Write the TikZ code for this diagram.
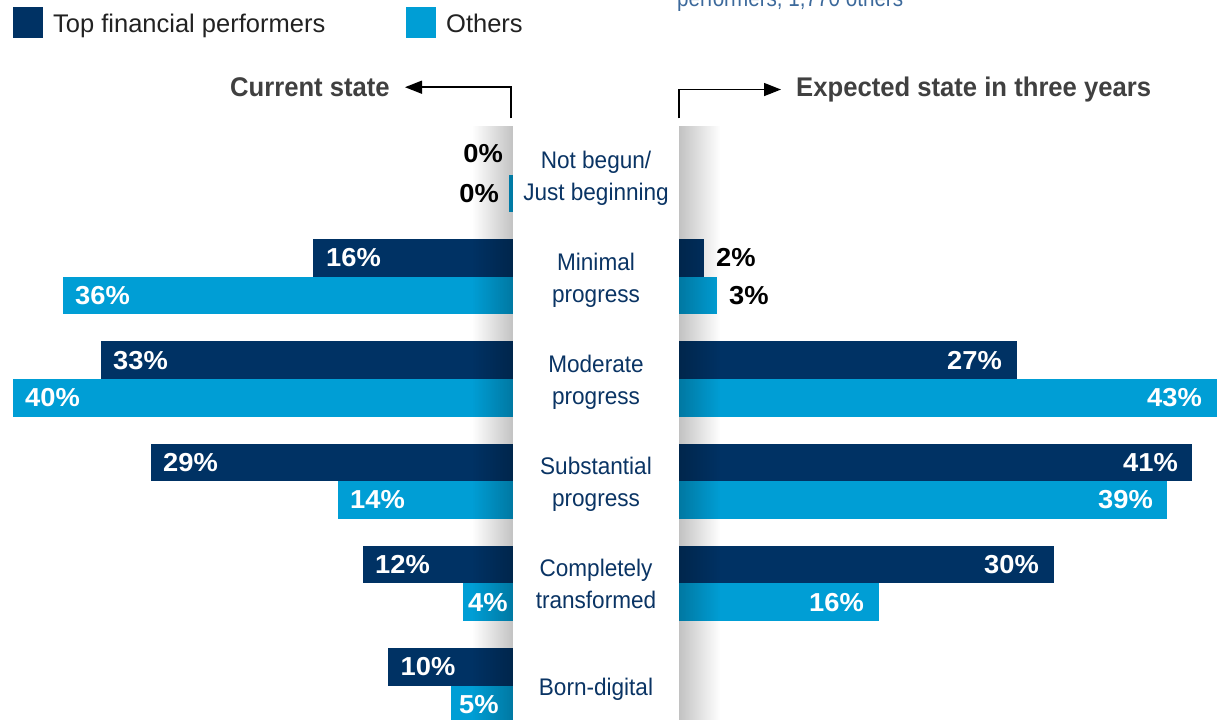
\documentclass[tikz,border=0pt]{standalone}
\usepackage{fontspec}
\setmainfont{Liberation Sans}
\newfontfamily\condfont{Liberation Sans}[FakeStretch=0.94]
\newfontfamily\notefont{Liberation Sans}[FakeStretch=0.86]
\newfontfamily\pctfont{Liberation Sans}[FakeStretch=1.05]
\newfontfamily\headfont{Liberation Sans}[FakeStretch=0.95]
\usetikzlibrary{arrows.meta,fadings}
\definecolor{topc}{RGB}{0,50,100}
\definecolor{othc}{RGB}{0,158,213}
\definecolor{catc}{RGB}{10,52,100}
\definecolor{headc}{RGB}{64,64,64}
\definecolor{notec}{RGB}{60,105,155}
\definecolor{legc}{RGB}{34,34,34}
\begin{document}
\begin{tikzpicture}[x=1pt,y=-1pt,
  pct/.style={inner sep=0pt,font=\pctfont\bfseries\fontsize{26}{30}\selectfont},
  pin/.style={pct,text=white},
  pout/.style={pct,text=black},
  cat/.style={inner sep=0pt,align=center,text=catc,font=\condfont\fontsize{24}{32}\selectfont},
  head/.style={inner sep=0pt,text=headc,font=\headfont\bfseries\fontsize{27}{30}\selectfont},
  leg/.style={inner sep=0pt,text=legc,font=\fontsize{25.5}{30}\selectfont},
  arr/.style={line width=1.5pt,-{Triangle[length=17pt,width=13pt]},shorten >=15pt},
]
\useasboundingbox (0,0) rectangle (1226,720);
% note at top (clipped in the reference)
\node[inner sep=0pt,anchor=base west,text=notec,font=\notefont\fontsize{24}{30}\selectfont] (note) at (677,6) {performers, 1,770 others};
% legend
\fill[topc] (13.3,6.7) rectangle (43.3,37.7);
\node[leg,anchor=base west] (legtop) at (53,32) {Top financial performers};
\fill[othc] (406,6.7) rectangle (436,37.7);
\node[leg,anchor=base west] (legoth) at (446,32) {Others};
% headings and arrows
\node[head,anchor=base east] (cur) at (390,96.5) {Current state};
\node[head,anchor=base west] (exp) at (796,96.5) {Expected state in three years};
\coordinate (curbot) at (511,118.3);
\coordinate (expbot) at (679,118.3);
\draw[arr] (curbot) |- (cur.east);
\draw[arr] (expbot) |- (exp.west);
% ---- bars ----
% row 1
\fill[othc] (509,174.6) rectangle (513,212.2);
% row 2
\fill[topc] (313,239.2) rectangle (513,276.8);
\fill[othc] (63,276.8) rectangle (513,314.4);
\fill[topc] (679,239.2) rectangle (704,276.8);
\fill[othc] (679,276.8) rectangle (716.5,314.4);
% row 3
\fill[topc] (100.5,341.4) rectangle (513,379);
\fill[othc] (13,379) rectangle (513,416.6);
\fill[topc] (679,341.4) rectangle (1016.5,379);
\fill[othc] (679,379) rectangle (1216.5,416.6);
% row 4
\fill[topc] (150.5,443.6) rectangle (513,481.2);
\fill[othc] (338,481.2) rectangle (513,518.8);
\fill[topc] (679,443.6) rectangle (1191.5,481.2);
\fill[othc] (679,481.2) rectangle (1166.5,518.8);
% row 5
\fill[topc] (363,545.8) rectangle (513,583.4);
\fill[othc] (463,583.4) rectangle (513,621);
\fill[topc] (679,545.8) rectangle (1054,583.4);
\fill[othc] (679,583.4) rectangle (879,621);
% row 6
\fill[topc] (388,648) rectangle (513,685.6);
\fill[othc] (450.5,685.6) rectangle (513,723.2);
% ---- column shadows ----
\fill[black,opacity=0.24,path fading=west] (472,125) rectangle (513,723);
\fill[black,opacity=0.24,path fading=east] (679,125) rectangle (720,723);
\fill[white] (513,120) rectangle (679,723);
% ---- value labels ----
\node[pout,anchor=base east] (l1a) at (503,162) {0\%};
\node[pout,anchor=base east] (l1b) at (499,202.2) {0\%};
\node[pin,anchor=base west] (l2a) at (326,266.8) {16\%};
\node[pin,anchor=base west] (l2b) at (75,304.4) {36\%};
\node[pout,anchor=base west] (r2a) at (716,266.8) {2\%};
\node[pout,anchor=base west] (r2b) at (729,304.4) {3\%};
\node[pin,anchor=base west] (l3a) at (113,369) {33\%};
\node[pin,anchor=base west] (l3b) at (25,406.6) {40\%};
\node[pin,anchor=base east] (r3a) at (1002,369) {27\%};
\node[pin,anchor=base east] (r3b) at (1202,406.6) {43\%};
\node[pin,anchor=base west] (l4a) at (163,471.2) {29\%};
\node[pin,anchor=base west] (l4b) at (350,508.8) {14\%};
\node[pin,anchor=base east] (r4a) at (1178,471.2) {41\%};
\node[pin,anchor=base east] (r4b) at (1153,508.8) {39\%};
\node[pin,anchor=base west] (l5a) at (375,573.4) {12\%};
\node[pin,anchor=base west] (l5b) at (468,611) {4\%};
\node[pin,anchor=base east] (r5a) at (1039,573.4) {30\%};
\node[pin,anchor=base east] (r5b) at (864,611) {16\%};
\node[pin,anchor=base west] (l6a) at (400.5,675.6) {10\%};
\node[pin,anchor=base west] (l6b) at (459,713.2) {5\%};
% ---- category labels (base = last line) ----
\node[cat,anchor=base] (c1) at (596,200.1) {Not begun/\\Just beginning};
\node[cat,anchor=base] (c2) at (596,302.3) {Minimal\\progress};
\node[cat,anchor=base] (c3) at (596,404.5) {Moderate\\progress};
\node[cat,anchor=base] (c4) at (596,506.7) {Substantial\\progress};
\node[cat,anchor=base] (c5) at (596,608.9) {Completely\\transformed};
\node[cat,anchor=base] (c6) at (596,695.6) {Born-digital};
\end{tikzpicture}
\end{document}
